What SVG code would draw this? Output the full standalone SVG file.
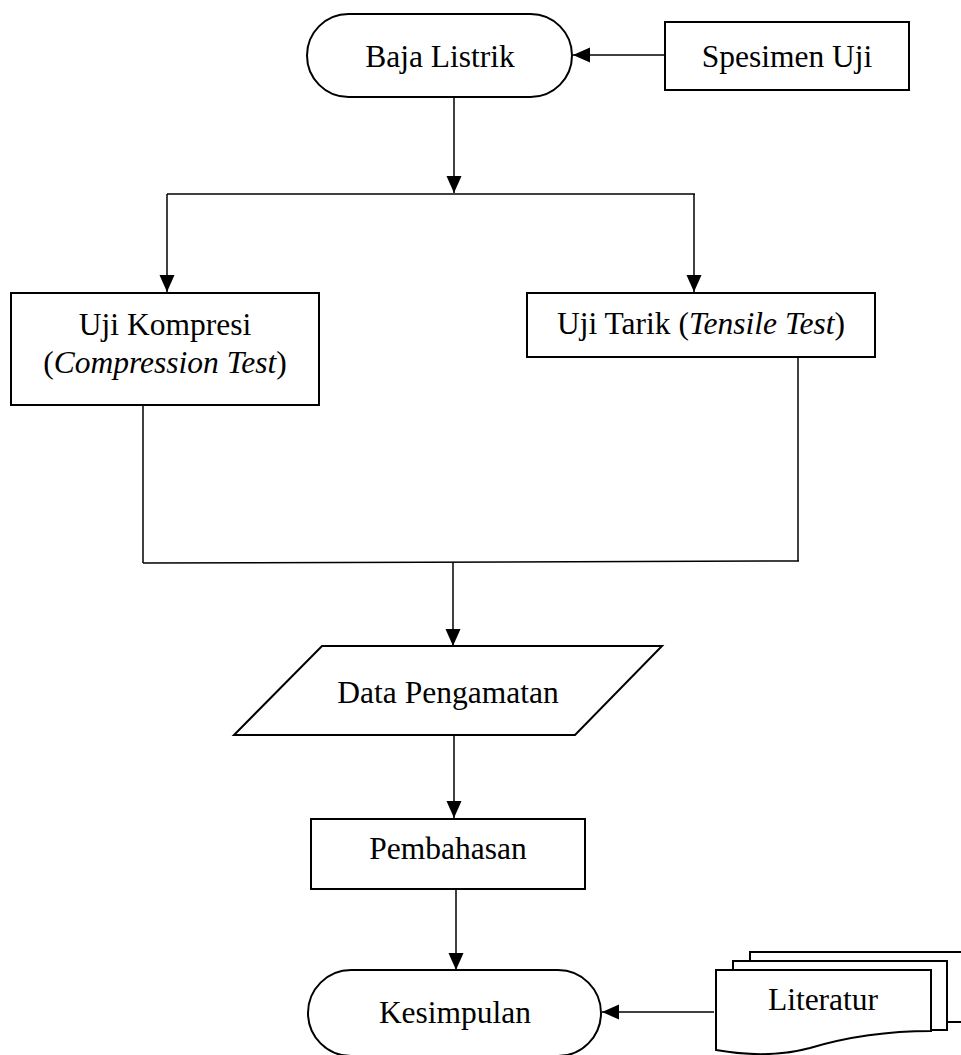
<svg xmlns="http://www.w3.org/2000/svg" width="961" height="1055" viewBox="0 0 961 1055">
<style>
.shape{fill:#fff;stroke:#000;stroke-width:2}
.conn{fill:none;stroke:#000;stroke-width:1.5}
.arr{marker-end:url(#ah)}
text{font-family:"Liberation Serif","Times New Roman",serif;font-size:31.5px;fill:#000;text-anchor:middle}
.it{font-style:italic}
</style>
<defs>
<marker id="ah" markerUnits="userSpaceOnUse" markerWidth="18" markerHeight="16" refX="17" refY="7.5" orient="auto">
<path d="M0,0 L17,7.5 L0,15 Z" fill="#000"/>
</marker>
</defs>
<rect width="961" height="1055" fill="#fff"/>
<g id="connectors">
<line class="conn arr" x1="665" y1="55" x2="573" y2="55"/>
<line class="conn arr" x1="454" y1="97" x2="454" y2="193"/>
<line class="conn" x1="167" y1="194" x2="695" y2="194"/>
<line class="conn arr" x1="167" y1="194" x2="167" y2="292"/>
<line class="conn arr" x1="694" y1="194" x2="694" y2="292"/>
<line class="conn" x1="143" y1="405" x2="143" y2="563"/>
<line class="conn" x1="798" y1="357" x2="798" y2="561"/>
<line class="conn" x1="143" y1="563" x2="799" y2="561"/>
<line class="conn arr" x1="453" y1="562" x2="453" y2="646"/>
<line class="conn arr" x1="454" y1="735" x2="454" y2="818"/>
<line class="conn arr" x1="456" y1="889" x2="456" y2="970"/>
<line class="conn arr" x1="714" y1="1012" x2="602" y2="1012"/>
</g>
<g id="baja-listrik">
<rect class="shape" x="307" y="14" width="265" height="83" rx="41.5"/>
<text x="440" y="67">Baja Listrik</text>
</g>
<g id="spesimen-uji">
<rect class="shape" x="665" y="22" width="244" height="68"/>
<text x="787" y="67">Spesimen Uji</text>
</g>
<g id="uji-kompresi">
<rect class="shape" x="11" y="293" width="308" height="112"/>
<text x="165" y="335">Uji Kompresi</text>
<text x="165" y="373">(<tspan class="it">Compression Test</tspan>)</text>
</g>
<g id="uji-tarik">
<rect class="shape" x="527" y="293" width="348" height="64"/>
<text x="701" y="334">Uji Tarik (<tspan class="it">Tensile Test</tspan>)</text>
</g>
<g id="data-pengamatan">
<polygon class="shape" points="322,646 662,646 575,735 234,735"/>
<text x="448" y="703">Data Pengamatan</text>
</g>
<g id="pembahasan">
<rect class="shape" x="311" y="819" width="274" height="70"/>
<text x="448" y="859">Pembahasan</text>
</g>
<g id="kesimpulan">
<rect class="shape" x="308" y="970" width="293" height="86" rx="43"/>
<text x="455" y="1023">Kesimpulan</text>
</g>
<g id="literatur">
<rect class="shape" x="750" y="952" width="240" height="70"/>
<rect class="shape" x="733" y="961" width="214" height="69"/>
<path class="shape" d="M716,970 H931 V1031 C890,1031 850,1036 810,1048 C780,1056 750,1056 716,1050 Z"/>
<text x="823" y="1010">Literatur</text>
</g>
</svg>
